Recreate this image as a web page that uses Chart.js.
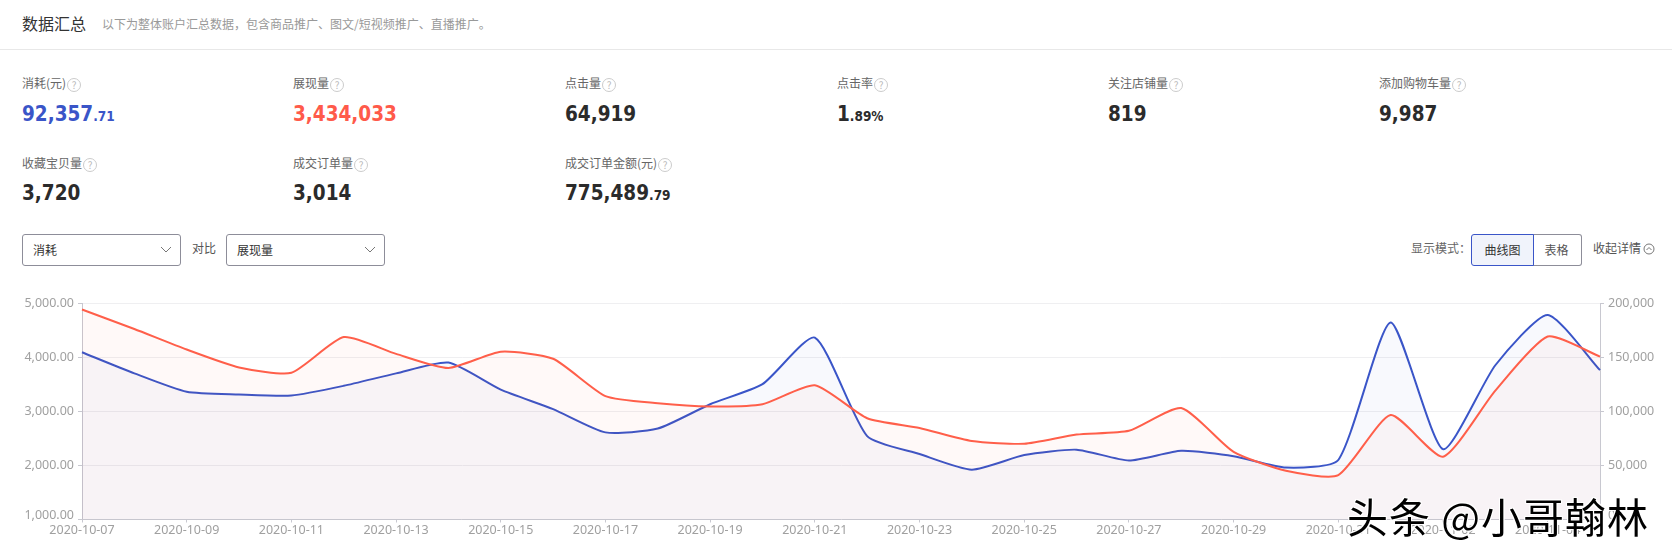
<!DOCTYPE html>
<html>
<head>
<meta charset="utf-8">
<script src="https://cdn.jsdelivr.net/npm/chart.js@4/dist/chart.umd.min.js"></script>
<style>
  html, body { margin: 0; padding: 0; background: #fff; overflow: hidden; }
  body { width: 1672px; height: 557px; position: relative; font-family: "Noto Sans CJK SC", sans-serif; color: #333; }
  .abs { position: absolute; white-space: nowrap; line-height: 1; }
  .label { font-size: 12px; color: #666; }
  .value { font-family: "DejaVu Sans Condensed", "DejaVu Sans", sans-serif; font-weight: bold; font-size: 20.5px; color: #2b2b2b; }
  .value small { font-size: 13.5px; }
  .help { display: inline-block; width: 12px; height: 12px; line-height: 12px; border: 1px solid #ccc; border-radius: 50%; font-size: 10px; color: #bbb; text-align: center; vertical-align: -1px; margin-left: 1px; }
  .select { position: absolute; top: 234px; width: 157px; height: 30px; border: 1px solid #8d8d99; border-radius: 3px; font-size: 12px; line-height: 30px; text-indent: 10px; color: #333; }
  .select svg { position: absolute; right: 8px; top: 11px; }
  .btn { position: absolute; top: 234px; height: 30px; font-size: 12px; line-height: 30px; text-align: center; }
  #chartBox { position: absolute; left: 0; top: 270px; width: 1672px; height: 287px; }
  #mark { font-size: 41px; color: #000; letter-spacing: 1px; text-shadow: 1px 1px 0 #fff, -1px -1px 0 #fff, 1px -1px 0 #fff, -1px 1px 0 #fff; }
</style>
</head>
<body>
<div class="abs" style="left:22px;top:15px;font-size:16px;color:#333">数据汇总</div>
<div class="abs" style="left:102px;top:18px;font-size:12px;color:#999">以下为整体账户汇总数据，包含商品推广、图文/短视频推广、直播推广。</div>
<div class="abs" style="left:0;top:49px;width:1672px;height:1px;background:#e8e8e8"></div>
<div id="stats"></div>

<div class="select" style="left:22px">消耗<svg width="12" height="8" viewBox="0 0 12 8"><path d="M1 1l5 5 5-5" fill="none" stroke="#777"/></svg></div>
<div class="abs label" style="left:192px;top:242px;color:#555">对比</div>
<div class="select" style="left:226px">展现量<svg width="12" height="8" viewBox="0 0 12 8"><path d="M1 1l5 5 5-5" fill="none" stroke="#777"/></svg></div>

<div class="abs label" style="left:1411px;top:242px">显示模式：</div>
<div class="btn" style="left:1532px;width:49px;border:1px solid #8d8d99;border-left:0;border-radius:0 3px 3px 0;color:#555">表格</div>
<div class="btn" style="left:1471px;width:61px;border:1px solid #3a55c8;border-radius:3px 0 0 3px;background:#f0f3fb;color:#333">曲线图</div>
<div class="abs label" style="left:1593px;top:242px;color:#555">收起详情</div>
<svg class="abs" style="left:1643px;top:243px" width="12" height="12" viewBox="0 0 12 12"><circle cx="6" cy="6" r="5" fill="none" stroke="#777"/><path d="M3.5 7l2.5-2.5L8.5 7" fill="none" stroke="#777"/></svg>

<div id="chartBox"><canvas id="trendChart" width="1672" height="287"></canvas></div>
<div class="abs" id="mark" style="left:1347px;top:495px">头条 @小哥翰林</div>

<script>
const dates = ['2020-10-07','2020-10-08','2020-10-09','2020-10-10','2020-10-11','2020-10-12','2020-10-13','2020-10-14','2020-10-15','2020-10-16',
  '2020-10-17','2020-10-18','2020-10-19','2020-10-20','2020-10-21','2020-10-22','2020-10-23','2020-10-24','2020-10-25','2020-10-26',
  '2020-10-27','2020-10-28','2020-10-29','2020-10-30','2020-10-31','2020-11-01','2020-11-02','2020-11-03','2020-11-04','2020-11-05'];
// 消耗（左轴）
const costValues = [4090,3700,3360,3310,3290,3470,3700,3900,3400,3040,2610,2680,3130,3500,4360,2540,2210,1920,2190,2290,2090,2270,2170,1960,2100,4640,2300,3850,4780,3760];
// 展现量（右轴）
const impressionValues = [194000,176000,157000,140500,135500,168500,153000,140000,155000,148500,114000,107500,104500,106500,124000,93500,84500,72500,70000,78500,82000,103000,62500,45000,41000,96500,58000,119000,169000,150500];
const leftTicks = [1000,2000,3000,4000,5000];
const rightTicks = [0,50000,100000,150000,200000];

const statLabels = ['消耗(元)','展现量','点击量','点击率','关注店铺量','添加购物车量','收藏宝贝量','成交订单量','成交订单金额(元)'];
const statMain = ['92,357','3,434,033','64,919','1','819','9,987','3,720','3,014','775,489'];
const statSmall = ['.71','','','.89%','','','','','.79'];
const statColors = ['#3a55c8','#ff5a4a','','','','','','',''];
const statCols = [22,293,565,837,1108,1379];

// ===== 指标卡片 =====
function renderStats() {
  const box = document.getElementById('stats');
  let html = '';
  statLabels.forEach((label, i) => {
    const x = statCols[i % 6];
    const row = Math.floor(i / 6);
    const labelTop = row ? 157 : 77;
    const valueTop = row ? 183 : 104;
    const color = statColors[i] ? `color:${statColors[i]}` : '';
    const small = statSmall[i] ? `<small>${statSmall[i]}</small>` : '';
    html += `<div class="abs label" style="left:${x}px;top:${labelTop}px">${label}<span class="help">?</span></div>`;
    html += `<div class="abs value" style="left:${x}px;top:${valueTop}px;${color}">${statMain[i]}${small}</div>`;
  });
  box.innerHTML = html;
}

// ===== 曲线图 =====
function renderChart() {
  const fontSpec = { family: "'Noto Sans', sans-serif", size: 12.5 };
  const yFont = { family: "'Noto Sans', sans-serif", size: 12.5, lineHeight: 0.72 };
  new Chart(document.getElementById('trendChart'), {
    type: 'line',
    data: {
      labels: dates,
      datasets: [
        {
          label: '展现量',
          data: impressionValues,
          yAxisID: 'y1',
          borderColor: '#ff5f4a',
          backgroundColor: 'rgba(255, 90, 60, 0.035)',
          borderWidth: 2,
          pointRadius: 0,
          tension: 0.2,
          fill: 'origin'
        },
        {
          label: '消耗',
          data: costValues,
          yAxisID: 'y',
          borderColor: '#3a55c8',
          backgroundColor: 'rgba(58, 85, 200, 0.035)',
          borderWidth: 2,
          pointRadius: 0,
          tension: 0.2,
          fill: 'origin'
        }
      ]
    },
    options: {
      responsive: false,
      animation: false,
      layout: { padding: { top: 33 } },
      plugins: { legend: { display: false }, tooltip: { enabled: false } },
      scales: {
        x: {
          offset: false,
          border: { color: '#c8c8d0' },
          grid: {
            drawOnChartArea: false,
            tickLength: 3,
            tickColor: ctx => (ctx.index % 2 === 0 ? '#c8c8d0' : 'transparent')
          },
          afterFit: s => { s.height = 37.5; },
          ticks: {
            autoSkip: false,
            maxRotation: 0,
            color: '#a0a0a0',
            font: fontSpec,
            padding: 0,
            callback(v, i) { return i % 2 === 0 ? dates[i] : ''; }
          }
        },
        y: {
          position: 'left',
          min: 1000,
          max: 5000,
          afterFit: s => { s.width = 82; },
          afterBuildTicks: s => { s.ticks = leftTicks.map(value => ({ value })); },
          border: { color: '#c8c8d0' },
          grid: { color: '#efeff1', tickColor: '#c8c8d0', tickLength: 4 },
          ticks: {
            color: '#a0a0a0',
            font: yFont,
            padding: 4,
            // 最下面のラベルは軸の少し上に出す
            callback(v) {
              const text = v.toLocaleString('en-US', { minimumFractionDigits: 2 });
              return v === 1000 ? [text, ''] : text;
            }
          }
        },
        y1: {
          position: 'right',
          min: 0,
          max: 200000,
          afterFit: s => { s.width = 72; },
          afterBuildTicks: s => { s.ticks = rightTicks.map(value => ({ value })); },
          border: { color: '#c8c8d0' },
          grid: { drawOnChartArea: false, tickColor: '#c8c8d0', tickLength: 4 },
          ticks: {
            color: '#a0a0a0',
            font: yFont,
            padding: 4,
            callback(v) {
              const text = v.toLocaleString('en-US');
              return v === 0 ? [text, ''] : text;
            }
          }
        }
      }
    }
  });
}

renderStats();
renderChart();
</script>
</body>
</html>
